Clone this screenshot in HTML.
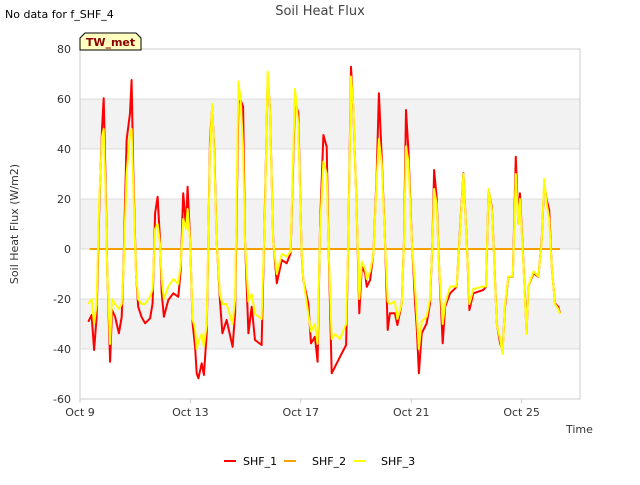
<!DOCTYPE html>
<html><head><meta charset="utf-8"><style>
body{margin:0;background:#fff;font-family:"Liberation Sans","DejaVu Sans",sans-serif;}
svg text{font-family:"DejaVu Sans","Liberation Sans",sans-serif;}
</style></head><body>
<svg id="chart" width="640" height="480" xmlns="http://www.w3.org/2000/svg">
<rect width="640" height="480" fill="#fff"/>
<text x="5" y="18" font-size="11" fill="#000">No data for f_SHF_4</text>
<text x="320" y="15" font-size="13" fill="#444" text-anchor="middle">Soil Heat Flux</text>
<g id="bands"></g>
<g id="grid"></g>
<rect x="80" y="49" width="500" height="350" fill="none" stroke="#ccc"/>
<g id="yticks"></g><g id="xticks"></g>
<text transform="translate(18,224) rotate(-90)" font-size="11" fill="#333" text-anchor="middle">Soil Heat Flux (W/m2)</text>
<text x="566" y="433" font-size="11" fill="#333">Time</text>
<g id="series"></g>
<g>
<path d="M80,50 L80,38 L85,33 L136,33 L141,38 L141,50 Z" fill="#ffffc0" stroke="#000" stroke-width="1"/>
<text x="110.5" y="46" font-size="11" font-weight="bold" fill="#8b0000" text-anchor="middle">TW_met</text>
</g>
<g>
<g><line x1="224" y1="461" x2="236" y2="461" stroke="#ff0000" stroke-width="2"/><text x="243" y="465" font-size="11" fill="#000">SHF_1</text></g>
<g><line x1="284" y1="461" x2="296" y2="461" stroke="#f5a000" stroke-width="2"/><text x="312" y="465" font-size="11" fill="#000">SHF_2</text></g>
<g><line x1="354" y1="461" x2="366" y2="461" stroke="#ffff00" stroke-width="2"/><text x="381" y="465" font-size="11" fill="#000">SHF_3</text></g>
</g>
</svg>
<script>
const times=[.30,.42,.51,.60,.70,.80,.86,.92,.99,1.09,1.16,1.27,1.41,1.51,1.57,1.69,1.81,1.87,1.93,2.03,2.11,2.23,2.36,2.54,2.63,2.72,2.81,2.90,2.96,3.04,3.20,3.38,3.56,3.65,3.74,3.84,3.90,3.99,4.08,4.17,4.23,4.29,4.41,4.49,4.59,4.71,4.79,4.87,4.95,5.07,5.16,5.31,5.53,5.62,5.74,5.82,5.91,5.98,6.10,6.22,6.34,6.58,6.70,6.80,6.88,7.00,7.13,7.31,7.49,7.63,7.79,7.91,8.03,8.09,8.27,8.37,8.51,8.61,8.70,8.82,8.94,9.00,9.12,9.24,
9.42,9.64,9.72,9.82,9.90,10.02,10.12,10.21,10.33,10.39,10.51,10.63,10.75,10.83,10.93,11.05,11.15,11.23,11.41,11.50,11.66,11.74,11.81,11.90,12.02,12.14,12.20,12.28,12.38,12.56,12.68,12.77,12.83,12.92,13.01,13.14,13.23,13.41,13.65,13.77,13.89,14.01,14.11,14.25,14.61,14.71,14.80,14.92,14.98,15.10,15.22,15.31,15.40,15.52,15.68,15.79,15.88,15.94,16.04,16.18,16.24,16.43,16.61,16.73,16.82,16.91,17.00,17.09,17.21,17.33,17.39];
const shf1=[-29.1,-26.4,-40.4,-27.1,16.9,48.9,60.3,30.3,-9.7,-45.1,-24.4,-27.1,-33.7,-27.1,-9.7,43.6,54.3,67.6,30.3,-9.7,-23.1,-27.1,-29.7,-27.7,-21.7,14.3,20.9,3.6,-17.7,-27.1,-20.4,-17.7,-19.1,-8.4,22.3,8.9,24.9,3.6,-29.7,-39.1,-49.7,-51.7,-45.7,-50.4,-33.7,43.6,56.9,38.3,3.6,-20.4,-33.7,-28.4,-39.1,-25.7,58.3,59.6,56.9,3.6,-33.7,-23.1,-36.4,-38.4,16.9,68.9,56.9,3.6,-13.7,-4.4,-5.7,-1.7,59.6,54.3,-1.7,-12.4,-21.7,-37.7,-35.1,-45.1,10.3,45.6,40.9,3.6,-49.7,-47.1,
-43.1,-38.4,3.6,72.9,56.9,16.9,-25.7,-7.1,-9.7,-15.1,-12.4,-1.7,30.3,62.3,36.9,3.6,-32.4,-25.7,-25.7,-30.4,-21.7,3.6,55.6,39.6,3.6,-21.7,-31.1,-49.7,-33.7,-29.7,-21.7,3.6,31.6,20.9,-7.1,-37.7,-23.1,-17.7,-15.1,8.9,30.3,3.6,-24.4,-17.7,-16.4,-15.1,23.6,16.9,3.6,-29.7,-37.7,-40.4,-23.1,-11.1,-11.1,36.9,10.3,22.3,0.9,-33.7,-15.1,-9.7,-11.1,3.6,26.3,19.6,15.6,-7.1,-21.7,-23.1,-25.7];
const shf3=[-22,-20,-30,-22,20,45,48,25,-10,-38,-20,-22,-24,-22,-10,30,46,48,25,-10,-20,-22,-22,-19,-16,8,10,2,-12,-20,-15,-12,-14,-6,12,8,16,3,-28,-32,-40,-37,-34,-39,-30,40,58,36,3,-18,-22,-22,-30,-20,67,60,40,3,-21,-18,-26,-28,14,71,56,3,-10,-2,-3,-1,64,50,-1,-12,-26,-33,-30,-38,8,35,30,3,-36,-34,
-36,-30,3,69,58,16,-20,-5,-8,-12,-9,-2,28,44,34,3,-21,-22,-21,-28,-22,3,41,35,3,-16,-26,-40,-29,-27,-20,3,24,18,-7,-30,-22,-15,-15,8,30,3,-22,-16,-15,-15,24,16,3,-30,-36,-42,-22,-11,-11,30,10,20,0,-34,-15,-9,-11,3,28,18,12,-7,-22,-24,-26];
const shf2Range=[0.35,17.39];
const shf2Value=0;
const yTicks=[-60,-40,-20,0,20,40,60,80];
const xTickDays=[0,4,8,12,16];
const xTickLabels=["Oct 9","Oct 13","Oct 17","Oct 21","Oct 25"];

const NS="http://www.w3.org/2000/svg";
const X=t=>80+t*27.6;
const Y=v=>249-v*2.5;
function mk(tag,attrs,parent){const e=document.createElementNS(NS,tag);for(const k in attrs)e.setAttribute(k,attrs[k]);parent.appendChild(e);return e;}
const bands=document.getElementById('bands'),grid=document.getElementById('grid');
for(let i=0;i<yTicks.length-1;i++){
  if(i%2===1){const r=mk('rect',{x:80,y:Y(yTicks[i+1]),width:500,height:Y(yTicks[i])-Y(yTicks[i+1]),fill:'#f2f2f2'},bands);
  
  }
}
const yt=document.getElementById('yticks');
yTicks.forEach(v=>{
  const l=mk('line',{x1:80,x2:580,y1:Y(v),y2:Y(v),stroke:'#dcdcdc'},grid);
  
  
  const t=mk('text',{x:71,y:Y(v)+4,'font-size':11,fill:'#333','text-anchor':'end'},yt);t.textContent=v;
  
  
});
const xt=document.getElementById('xticks');
xTickDays.forEach((d,i)=>{
  mk('line',{x1:X(d),x2:X(d),y1:399,y2:403,stroke:'#ccc'},xt);
  const t=mk('text',{x:X(d),y:416,'font-size':11,fill:'#333','text-anchor':'middle'},xt);t.textContent=xTickLabels[i];
  
  
});
const sg=document.getElementById('series');
function line(vals,color,name){
  const d=vals.map((v,i)=>(i?'L':'M')+X(times[i]).toFixed(1)+','+Y(v).toFixed(1)).join('');
  const p=mk('path',{d:d,fill:'none',stroke:color,'stroke-width':2,'stroke-linejoin':'round'},sg);
  
  
}
line(shf1,'#ff0000','series-shf-1');
const o=mk('line',{x1:X(shf2Range[0]),x2:X(shf2Range[1]),y1:Y(shf2Value),y2:Y(shf2Value),stroke:'#f5a000','stroke-width':2},sg);


line(shf3,'#ffff00','series-shf-3');
</script>
</body></html>
